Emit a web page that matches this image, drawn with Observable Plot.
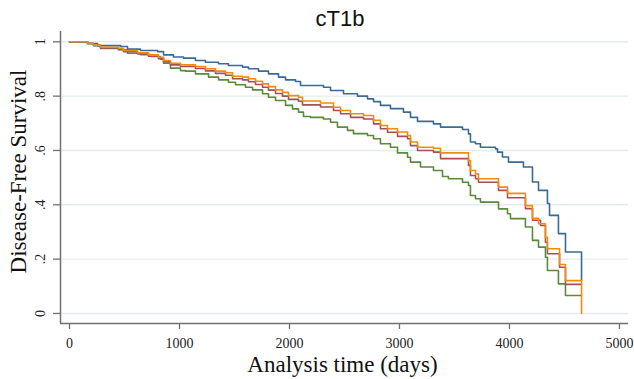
<!DOCTYPE html>
<html>
<head>
<meta charset="utf-8">
<script src="https://cdn.jsdelivr.net/npm/d3@7"></script>
<script src="https://cdn.jsdelivr.net/npm/@observablehq/plot@0.6"></script>
<style>
  body { margin: 0; background: #fff; }
  #title { width: 634px; height: 30px; box-sizing: border-box; padding-left: 46px; text-align: center;
           font: 22px "Liberation Sans", Arial, sans-serif; line-height: 37px; color: #111; overflow: visible; }
</style>
</head>
<body>
<div id="title">cT1b</div>
<div id="chart"></div>
<script>
// ---- data ----
const seriesNames = ["Group 1", "Group 2", "Group 3", "Group 4"];
const seriesColors = ["#3a6a96", "#a94d57", "#f08c0e", "#5b8a3b"];

const timeG1 = [0,164,255,464,527,645,800,855,945,1036,1145,1236,1355,1445,1573,1627,1718,1809,1900,1964,2055,2100,2309,2373,2491,2618,2709,2764,2827,2918,3036,3100,3164,3309,3373,3573,3627,3645,3691,3736,3873,3891,3936,3991,4127,4209,4264,4345,4364,4445,4509,4655];
const survG1 = [1,0.994,0.986,0.983,0.973,0.968,0.964,0.952,0.944,0.940,0.931,0.925,0.919,0.913,0.907,0.901,0.892,0.882,0.870,0.860,0.854,0.839,0.833,0.821,0.809,0.800,0.790,0.780,0.766,0.754,0.741,0.722,0.707,0.698,0.686,0.677,0.661,0.631,0.625,0.612,0.606,0.594,0.576,0.557,0.539,0.484,0.453,0.405,0.361,0.294,0.226,0.121];

const timeG2 = [0,164,218,282,445,491,618,718,809,855,918,1009,1145,1236,1327,1418,1482,1573,1627,1691,1755,1809,1873,1936,1991,2082,2118,2282,2400,2464,2555,2673,2764,2827,2891,2982,3073,3100,3164,3309,3373,3627,3645,3691,3718,3900,3982,4145,4209,4282,4327,4345,4455,4509,4655];
const survG2 = [1,0.994,0.987,0.977,0.972,0.964,0.955,0.947,0.938,0.926,0.915,0.909,0.902,0.893,0.884,0.877,0.864,0.860,0.853,0.843,0.833,0.822,0.810,0.800,0.788,0.781,0.768,0.760,0.747,0.735,0.722,0.716,0.698,0.680,0.667,0.652,0.643,0.618,0.600,0.594,0.570,0.545,0.508,0.496,0.483,0.453,0.426,0.386,0.343,0.324,0.262,0.220,0.170,0.107,0.107];

const timeG3 = [0,164,218,282,445,491,618,718,809,855,918,1009,1145,1236,1327,1418,1482,1573,1627,1691,1755,1809,1873,1936,1991,2082,2118,2282,2400,2464,2555,2673,2764,2827,2891,2982,3073,3100,3164,3309,3373,3627,3645,3691,3718,3900,3982,4145,4209,4264,4327,4345,4455,4509,4655];
const survG3 = [1,0.994,0.988,0.980,0.976,0.968,0.960,0.952,0.943,0.931,0.921,0.915,0.909,0.901,0.892,0.886,0.873,0.870,0.864,0.855,0.845,0.835,0.823,0.814,0.802,0.796,0.782,0.775,0.759,0.747,0.735,0.729,0.711,0.692,0.680,0.668,0.655,0.631,0.612,0.608,0.591,0.563,0.526,0.514,0.496,0.465,0.442,0.397,0.350,0.330,0.280,0.238,0.180,0.121,0];

const timeG4 = [0,164,218,282,445,527,645,736,827,855,918,1009,1055,1145,1264,1355,1445,1509,1600,1664,1755,1809,1873,1964,2027,2082,2127,2191,2309,2373,2436,2527,2582,2709,2764,2827,2918,2982,3073,3100,3191,3309,3391,3445,3573,3627,3645,3691,3736,3900,3982,4009,4145,4209,4264,4327,4345,4445,4509,4655];
const survG4 = [1,0.994,0.986,0.976,0.971,0.958,0.953,0.946,0.936,0.921,0.903,0.894,0.892,0.882,0.870,0.860,0.851,0.842,0.833,0.823,0.809,0.796,0.784,0.766,0.753,0.741,0.725,0.722,0.716,0.704,0.686,0.674,0.662,0.655,0.643,0.625,0.612,0.591,0.575,0.557,0.539,0.526,0.504,0.496,0.483,0.471,0.434,0.422,0.410,0.385,0.367,0.349,0.318,0.269,0.244,0.207,0.158,0.109,0.066,0.066];

const xTicks = [0, 1000, 2000, 3000, 4000, 5000];
const yTicks = [0, 0.2, 0.4, 0.6, 0.8, 1];
const yTickLabels = ["0", ".2", ".4", ".6", ".8", "1"];
const xLabel = "Analysis time (days)";
const yLabel = "Disease-Free Survival";

// ---- build table ----
const times = [timeG1, timeG2, timeG3, timeG4];
const survs = [survG1, survG2, survG3, survG4];
const rows = [];
// draw order: green, red, blue, orange
[3, 1, 0, 2].forEach(i => {
  times[i].forEach((t, j) => rows.push({series: seriesNames[i], time: t, surv: survs[i][j]}));
});

const xDomain = [-82, 5082];
const yDomain = [-0.037, 1.038];
const axisColor = "#707070";

const chart = Plot.plot({
  width: 634,
  height: 349,
  marginLeft: 60,
  marginRight: 6,
  marginTop: 1,
  marginBottom: 56,
  x: {domain: xDomain},
  y: {domain: yDomain},
  color: {domain: seriesNames, range: seriesColors},
  style: {fontFamily: "'Liberation Serif', 'Times New Roman', serif", background: "white", color: "#222", overflow: "visible"},
  marks: [
    Plot.ruleY(yTicks, {stroke: "#e3ecef", strokeWidth: 1.4}),
    Plot.line(rows, {x: "time", y: "surv", z: "series", stroke: "series", curve: "step-after", strokeWidth: 1.6}),
    Plot.ruleX([xDomain[0]], {stroke: axisColor, strokeWidth: 1.5}),
    Plot.ruleY([yDomain[0]], {stroke: axisColor, strokeWidth: 1.5}),
    Plot.axisX({ticks: xTicks, tickFormat: d => String(d), tickSize: 6, tickPadding: 9, fontSize: 14, label: null, stroke: axisColor, strokeWidth: 1.3}),
    Plot.axisY({ticks: yTicks, tickSize: 7, tickFormat: () => "", label: null, stroke: axisColor, strokeWidth: 1.3}),
    Plot.text(yTicks, {y: d => d, text: (d, i) => yTickLabels[i], frameAnchor: "left", textAnchor: "middle", lineAnchor: "middle", dx: -20, rotate: -90, fontSize: 14, fill: "#222"}),
    Plot.text([xLabel], {frameAnchor: "bottom", textAnchor: "middle", lineAnchor: "middle", dy: 41, dx: -2, fontSize: 23, fill: "#111"}),
    Plot.text([yLabel], {frameAnchor: "left", textAnchor: "middle", lineAnchor: "middle", dx: -42, dy: -6, rotate: -90, fontSize: 23, fill: "#111"})
  ]
});
document.getElementById("chart").appendChild(chart);
</script>
</body>
</html>
